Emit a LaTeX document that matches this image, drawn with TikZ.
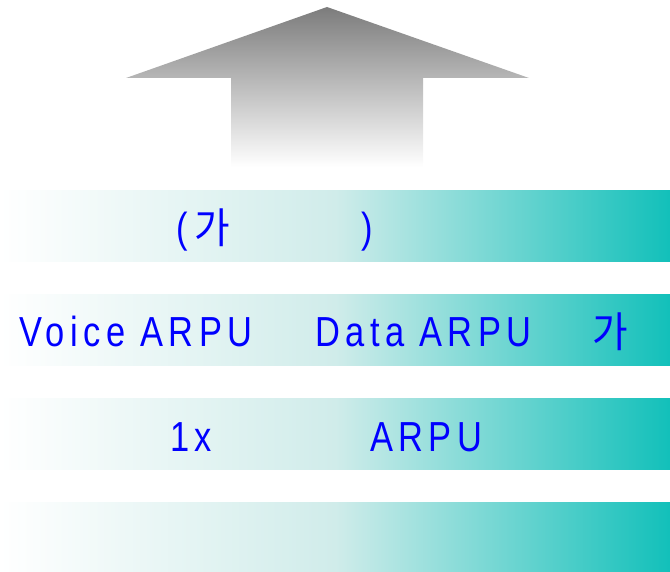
\documentclass[tikz,border=0pt]{standalone}
\usepackage{fontspec}
\setmainfont{Liberation Sans}
\newfontfamily\latfont[FakeStretch=0.82,LetterSpace=13]{Liberation Sans}
\newfontfamily\korfont[FakeStretch=0.92]{Noto Sans CJK KR}
\definecolor{bandmid}{HTML}{D0ECEA}
\definecolor{bandteal}{HTML}{12C0BA}
\definecolor{arrowgray}{HTML}{7C7C7C}

\begin{document}
\begin{tikzpicture}[x=1pt,y=-1pt,
  band/.style={rectangle,inner sep=0pt,minimum width=670pt,minimum height=71pt,anchor=north west,left color=white,right color=bandteal,middle color=bandmid},
  lbl/.style={inner sep=0pt,anchor=base west,text=blue,font=\latfont\fontsize{42}{50}\selectfont},
  klbl/.style={inner sep=0pt,anchor=base west,text=blue,font=\korfont\fontsize{42}{50}\selectfont}]
\useasboundingbox (0,0) rectangle (670,572);
\shade[top color=arrowgray,bottom color=white] (327,7) -- (529,78) -- (423,78) -- (423,167) -- (231,167) -- (231,78) -- (126,78) -- cycle;
\node[band] (band1) at (0,190) {};
\node[band] (band2) at (0,294) {};
\node[band] (band3) at (0,398) {};
\node[band] (band4) at (0,502) {};
\node[lbl] (open) at (176,243) {(};
\node[klbl] (ga1) at (194,244) {가};
\node[lbl] (close) at (361,243) {)};
\node[lbl] (voice) at (19,347) {Voice ARPU};
\node[lbl] (data) at (315,347) {Data ARPU};
\node[klbl] (ga2) at (592,348) {가};
\node[lbl] (onex) at (170,451) {1x};
\node[lbl] (arpu) at (370,451) {ARPU};
\end{tikzpicture}
\end{document}
